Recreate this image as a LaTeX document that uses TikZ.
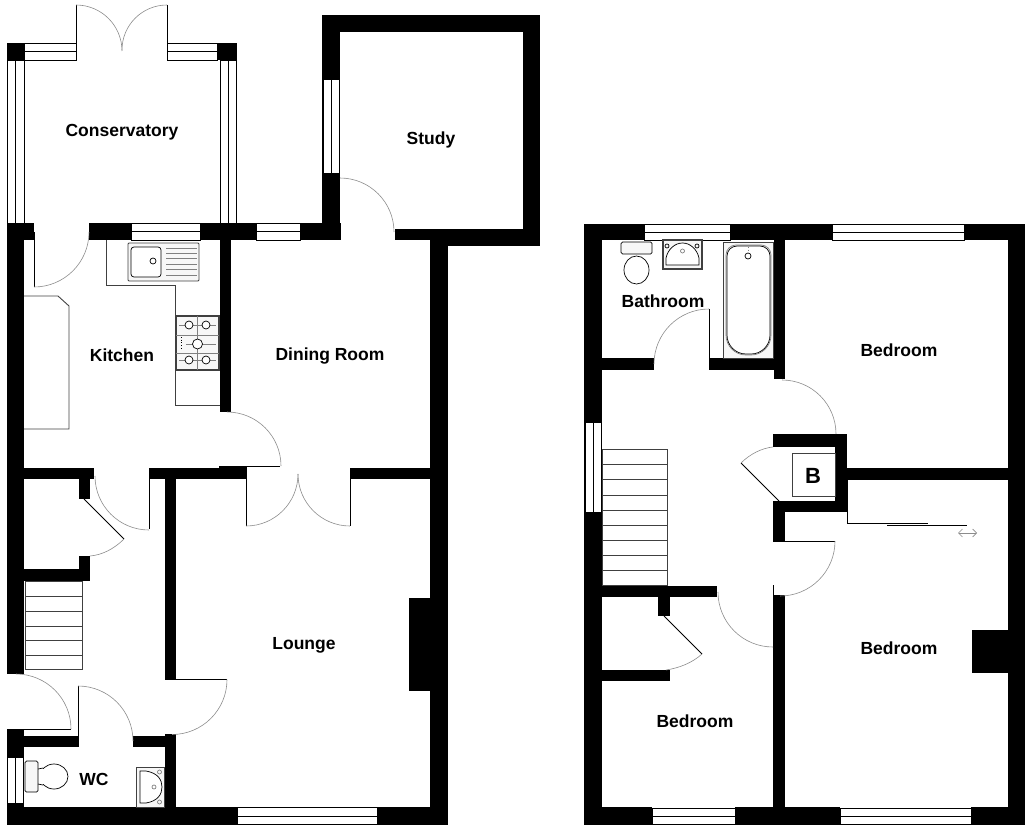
\documentclass[tikz,border=0pt]{standalone}
\usepackage{fontspec}
\setmainfont{Liberation Sans}
\usetikzlibrary{arrows.meta}
\tikzset{
  wall/.style={fill=black},
  winbox/.style={draw=black, fill=white, line width=0.9pt},
  winbar/.style={draw=black, line width=0.9pt},
  leaf/.style={draw=black, line width=0.9pt},
  swing/.style={draw=black!45, line width=0.6pt},
  unit/.style={draw=black!75, line width=0.9pt},
  fitting/.style={draw=black, line width=0.7pt},
  drainer/.style={draw=black!50, line width=0.7pt},
  tread/.style={draw=black!75, line width=0.8pt},
  room/.style={font=\fontsize{17.5}{20}\selectfont\bfseries}
}
\begin{document}
\begin{tikzpicture}[x=1pt, y=-1pt]
\useasboundingbox (0,0) rectangle (1032,832);

\fill[wall] (7,43) rectangle (24,60);
\fill[wall] (217,43) rectangle (237,60);
\fill[wall] (7,223) rectangle (34,240);
\fill[wall] (89,223) rectangle (131,240);
\fill[wall] (200,223) rectangle (256,240);
\fill[wall] (300,223) rectangle (341,240);
\fill[wall] (322,15) rectangle (340,223);
\fill[wall] (322,15) rectangle (540,32);
\fill[wall] (523,15) rectangle (540,246);
\fill[wall] (395,229) rectangle (448,240);
\fill[wall] (430,229) rectangle (448,825);
\fill[wall] (430,229) rectangle (540,246);
\fill[wall] (7,240) rectangle (24,674);
\fill[wall] (220,240) rectangle (231,412);
\fill[wall] (24,468) rectangle (94,479);
\fill[wall] (149,468) rectangle (247,479);
\fill[wall] (219,466) rectangle (247,479);
\fill[wall] (350,468) rectangle (430,479);
\fill[wall] (79,478) rectangle (90,499);
\fill[wall] (79,556) rectangle (90,581);
\fill[wall] (24,569) rectangle (90,581);
\fill[wall] (165,479) rectangle (176,680);
\fill[wall] (165,734) rectangle (176,807);
\fill[wall] (133,736) rectangle (165,747);
\fill[wall] (24,736) rectangle (78,747);
\fill[wall] (7,729) rectangle (24,825);
\fill[wall] (7,807) rectangle (237,825);
\fill[wall] (377,807) rectangle (448,825);
\fill[wall] (409,598) rectangle (430,691);

\fill[wall] (584,224) rectangle (644,240);
\fill[wall] (730,224) rectangle (832,240);
\fill[wall] (964,224) rectangle (1025,240);
\fill[wall] (584,224) rectangle (602,825);
\fill[wall] (1008,224) rectangle (1025,825);
\fill[wall] (584,807) rectangle (652,825);
\fill[wall] (735,807) rectangle (840,825);
\fill[wall] (971,807) rectangle (1025,825);
\fill[wall] (602,358) rectangle (654,370);
\fill[wall] (709,358) rectangle (774,370);
\fill[wall] (774,240) rectangle (785,379);
\fill[wall] (773,434) rectangle (847,447);
\fill[wall] (835,434) rectangle (847,512);
\fill[wall] (773,501) rectangle (847,512);
\fill[wall] (773,501) rectangle (785,541);
\fill[wall] (773,595) rectangle (785,807);
\fill[wall] (847,468) rectangle (1008,480);
\fill[wall] (602,586) rectangle (717,597);
\fill[wall] (658,597) rectangle (670,616);
\fill[wall] (602,670) rectangle (670,681);
\fill[wall] (972,630) rectangle (1008,673);

\draw[winbox] (24,43.5) rectangle (76,60);
\draw[winbar] (24,51.5) -- (76,51.5);
\draw[winbox] (167,43.5) rectangle (217,60);
\draw[winbar] (167,51.5) -- (217,51.5);
\draw[winbox] (7.5,60) rectangle (24,223);
\draw[winbar] (15.5,60) -- (15.5,223);
\draw[winbox] (220,60) rectangle (236,223);
\draw[winbar] (228,60) -- (228,223);
\draw[winbox] (131,223.5) rectangle (200,240);
\draw[winbar] (131,231.5) -- (200,231.5);
\draw[winbox] (256,223.5) rectangle (300,240);
\draw[winbar] (256,231.5) -- (300,231.5);
\draw[winbox] (323,79) rectangle (339,173);
\draw[winbar] (331,79) -- (331,173);
\draw[winbox] (237,807.5) rectangle (377,824.5);
\draw[winbar] (237,816) -- (377,816);
\draw[winbox] (7.5,757) rectangle (23.5,803);
\draw[winbar] (15.5,757) -- (15.5,803);
\draw[winbox] (644,224.5) rectangle (730,240);
\draw[winbar] (644,232) -- (730,232);
\draw[winbox] (832,224.5) rectangle (964,240);
\draw[winbar] (832,232) -- (964,232);
\draw[winbox] (585,422) rectangle (601,512);
\draw[winbar] (593,422) -- (593,512);
\draw[winbox] (652,808) rectangle (735,824);
\draw[winbar] (652,816) -- (735,816);
\draw[winbox] (840,808) rectangle (971,824);
\draw[winbar] (840,816) -- (971,816);

\draw[leaf] (76,5) -- (76,60);
\draw[leaf] (167,5) -- (167,60);
\draw[swing] (76,5) arc[start angle=-90, end angle=0, radius=46];
\draw[swing] (167,5) arc[start angle=-90, end angle=-180, radius=45];
\draw[leaf] (34,232) -- (34,287);
\draw[swing] (89,232) arc[start angle=0, end angle=90, radius=55];
\draw[swing] (340,178) arc[start angle=-90, end angle=0, radius=54];
\draw[leaf] (220,466.5) -- (280,466.5);
\draw[swing] (227,412) arc[start angle=-90, end angle=0, radius=54];
\draw[leaf] (246,478) -- (246,526);
\draw[leaf] (350,468) -- (350,526);
\draw[swing] (246,526) arc[start angle=90, end angle=0, radius=52];
\draw[swing] (350,526) arc[start angle=90, end angle=180, radius=52];
\draw[leaf] (149,468) -- (149,529);
\draw[swing] (95,476) arc[start angle=180, end angle=90, radius=54];
\draw[leaf] (84,499) -- (124,539);
\draw[swing] (124,539) .. controls (114,549) and (102,555) .. (90,556);
\draw[leaf] (176,679.5) -- (227,679.5);
\draw[swing] (227,679.5) arc[start angle=0, end angle=90, radius=55];
\draw[leaf] (78,686) -- (78,747);
\draw[swing] (78,686) arc[start angle=-90, end angle=0, radius=55];
\draw[leaf] (24,729) -- (71,729);
\draw[swing] (16,674) arc[start angle=-90, end angle=0, radius=55];

\draw[leaf] (709,309) -- (709,370);
\draw[swing] (709,309) arc[start angle=-90, end angle=-180, radius=55];
\draw[swing] (782,380) arc[start angle=-90, end angle=0, radius=54];
\draw[leaf] (741,463) -- (779,501);
\draw[swing] (741,463) .. controls (750,454) and (762,448) .. (773,447);
\draw[leaf] (773,541) -- (835,541);
\draw[swing] (835,541) arc[start angle=0, end angle=90, radius=55];
\draw[leaf] (773,585) -- (773,646);
\draw[swing] (718,592) arc[start angle=180, end angle=90, radius=55];
\draw[leaf] (664,616) -- (702,654);
\draw[swing] (702,654) .. controls (692,663) and (679,668) .. (666,670);
\draw[leaf] (847.5,480) -- (847.5,523) -- (928,523);
\draw[leaf] (887,525.5) -- (967,525.5);
\draw[swing, {Straight Barb[length=4pt,width=8pt]}-{Straight Barb[length=4pt,width=8pt]}] (958,533) -- (977,533);

\draw[tread] (25,581) rectangle (82,669);
\draw[tread] (25,596) -- (82,596);
\draw[tread] (25,611) -- (82,611);
\draw[tread] (25,626) -- (82,626);
\draw[tread] (25,640) -- (82,640);
\draw[tread] (25,655) -- (82,655);

\draw[tread] (602,449) rectangle (667,585);
\draw[tread] (602,464) -- (667,464);
\draw[tread] (602,479) -- (667,479);
\draw[tread] (602,495) -- (667,495);
\draw[tread] (602,510) -- (667,510);
\draw[tread] (602,525) -- (667,525);
\draw[tread] (602,540) -- (667,540);
\draw[tread] (602,555) -- (667,555);
\draw[tread] (602,570) -- (667,570);

\draw[unit] (106,240) -- (106,285) -- (175,285) -- (175,405) -- (220,405);
\draw[unit] (24,296) -- (58,296) -- (69,306) -- (69,429) -- (24,429);

\draw[unit, fill=black!3, rounded corners=1pt] (128,243) rectangle (199,281);
\draw[fitting, fill=white, rounded corners=3pt] (131,247) rectangle (161,277);
\draw[fitting] (153,261) circle (3);
\draw[drainer] (166,248) -- (197,248);
\draw[drainer] (166,253) -- (197,253);
\draw[drainer] (166,258) -- (197,258);
\draw[drainer] (166,264) -- (197,264);
\draw[drainer] (166,269) -- (197,269);
\draw[drainer] (166,275) -- (197,275);

\draw[unit, line width=1.1pt, fill=black!3] (176,316) rectangle (219,370);
\draw[drainer] (197.5,316) -- (197.5,370);
\draw[drainer] (179,325) -- (216,325);
\draw[drainer] (176,335) -- (219,335);
\draw[drainer] (176,353) -- (219,353);
\draw[drainer] (186,344) -- (216,344);
\draw[drainer] (179,360) -- (216,360);
\draw[fitting, fill=white] (189,325) circle (4);
\draw[fitting, fill=white] (206,325) circle (4);
\draw[fitting, fill=white] (197.5,344) circle (5);
\draw[fitting, fill=white] (189,360) circle (4);
\draw[fitting, fill=white] (206,360) circle (4);
\draw[fitting, dotted] (181,337) -- (181,350);

\draw[fitting, fill=black!3, rounded corners=1.5pt] (25,761) rectangle (38,792);
\draw[fitting] (54,776.5) ellipse (14 and 12.5);
\fill[white] (38.5,769) rectangle (44,784);
\draw[fitting] (38,769) -- (43,768);
\draw[fitting] (38,784) -- (43,785);
\draw[unit, fill=black!3] (136,767) rectangle (164,807);
\draw[fitting, fill=white] (140,771) -- (146,771) .. controls (158,773) and (162,780) .. (162,787) .. controls (162,794) and (158,801) .. (146,803) -- (140,803) -- cycle;
\draw[drainer] (159.5,772) circle (2);
\draw[drainer] (159.5,802) circle (2);
\draw[drainer] (154,787) circle (2);

\draw[fitting, fill=black!3, rounded corners=1.5pt] (621,242) rectangle (652,254);
\draw[fitting] (636.5,270) ellipse (12.5 and 14);
\draw[unit, line width=1.1pt, fill=black!3] (663,240) rectangle (702,269);
\draw[fitting, fill=white] (666,265) -- (666,258) .. controls (668,249) and (675,243) .. (682.5,243) .. controls (690,243) and (697,249) .. (699,258) -- (699,265) -- cycle;
\draw[fitting] (667,246) circle (2);
\draw[fitting] (697,246) circle (2);
\draw[drainer] (682.5,251) circle (2);
\draw[unit, fill=black!3] (723,242) rectangle (773,358);
\draw[drainer, fill=white, rounded corners=10pt] (726,300) -- (726,245) -- (771,245) -- (771,300) [rounded corners=20pt] -- (771,355) -- (726,355) -- cycle;
\draw[fitting, fill=white, rounded corners=10pt] (727,300) -- (727,246) -- (770,246) -- (770,300) [rounded corners=19pt] -- (770,354) -- (727,354) -- cycle;
\draw[fitting] (748,256) circle (3);
\draw[drainer, dotted] (748,247) -- (748,252);

\draw[unit] (792,453) rectangle (835,496);

\node[room] (conservatory) at (122,132) {Conservatory};
\node[room] (study) at (431,139.5) {Study};
\node[room] (kitchen) at (122,355.5) {Kitchen};
\node[room] (dining) at (330,356) {Dining Room};
\node[room] (lounge) at (304,645) {Lounge};
\node[room] (wc) at (94,779) {WC};
\node[room] (bathroom) at (663,301) {Bathroom};
\node[room] (bedroomA) at (899,350) {Bedroom};
\node[room] (bedroomB) at (899,648) {Bedroom};
\node[room] (bedroomC) at (695,721) {Bedroom};
\node[room, font=\fontsize{22}{24}\selectfont\bfseries] (boiler) at (813,476) {B};

\end{tikzpicture}
\end{document}
